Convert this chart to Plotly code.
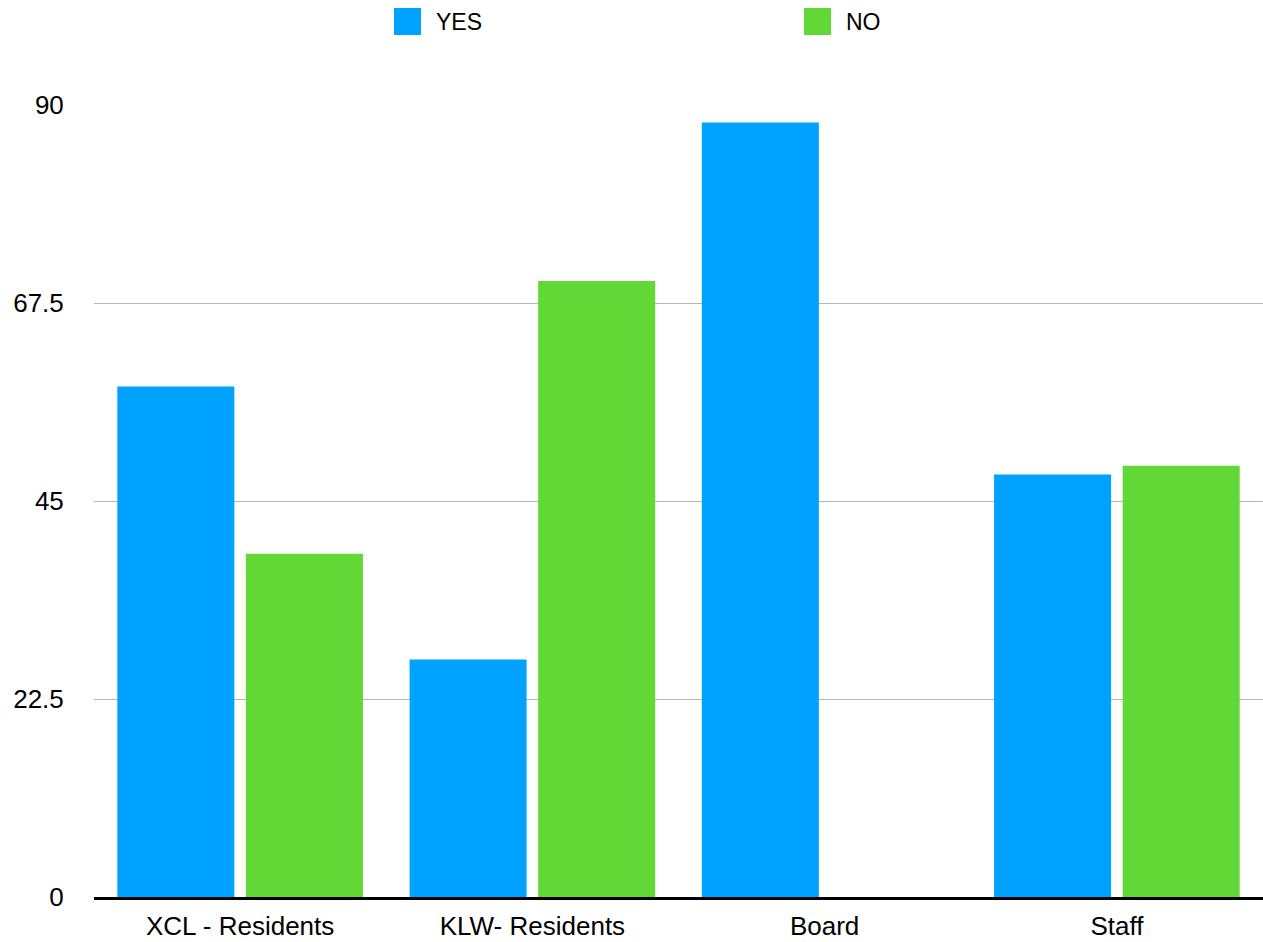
import plotly.graph_objects as go

categories = ["XCL - Residents", "KLW- Residents", "Board", "Staff"]
yes_values = [58, 27, 88, 48]
no_values = [39, 70, 0, 49]
y_ticks = [0, 22.5, 45, 67.5, 90]
y_tick_labels = ["0", "22.5", "45", "67.5", "90"]

BLUE = "#00A2FF"
GREEN = "#61D836"
FONT = "Liberation Sans, Arial, Helvetica, sans-serif"

fig = go.Figure()
fig.add_trace(go.Bar(name="YES", x=categories, y=yes_values, marker_color=BLUE,
                     marker_line_width=0))
fig.add_trace(go.Bar(name="NO", x=categories, y=no_values, marker_color=GREEN,
                     marker_line_width=0))

# Legend drawn as square swatches with text labels above the plot
legend_items = [("YES", BLUE, 394), ("NO", GREEN, 804)]
W, H = 1263, 942
ml, mr, mt, mb = 94, 0, 105, 45
pw = W - ml - mr
ph = H - mt - mb
for label, color, px in legend_items:
    x0 = (px - ml) / pw
    x1 = (px + 27 - ml) / pw
    y1 = (H - mb - 8) / ph
    y0 = (H - mb - 35) / ph
    fig.add_shape(type="rect", xref="paper", yref="paper", x0=x0, x1=x1,
                  y0=y0, y1=y1, fillcolor=color, line_width=0)
    fig.add_annotation(xref="paper", yref="paper", x=(px + 40 - ml) / pw,
                       y=(y0 + y1) / 2, text=label, showarrow=False,
                       xanchor="left", yanchor="middle",
                       font=dict(family=FONT, size=23, color="#000000"))

fig.update_layout(
    width=W, height=H,
    margin=dict(l=ml, r=mr, t=mt, b=mb, pad=0),
    paper_bgcolor="white", plot_bgcolor="white",
    barmode="group", bargap=0.12, bargroupgap=0.09,
    showlegend=False,
    font=dict(family=FONT, size=26, color="#000000"),
)
fig.update_xaxes(
    showgrid=False, showline=True, linecolor="#000000", linewidth=3,
    ticks="outside", ticklen=4, tickcolor="rgba(0,0,0,0)",
    tickfont=dict(family=FONT, size=26, color="#000000"),
)
fig.update_yaxes(
    range=[0, 90], tickvals=y_ticks, ticktext=y_tick_labels,
    showgrid=True, gridcolor="#b5b5b5", gridwidth=1,
    zeroline=False, showline=False,
    ticks="outside", ticklen=0, ticklabelstandoff=24,
    tickfont=dict(family=FONT, size=26, color="#000000"),
)

fig.write_html("out.html")
